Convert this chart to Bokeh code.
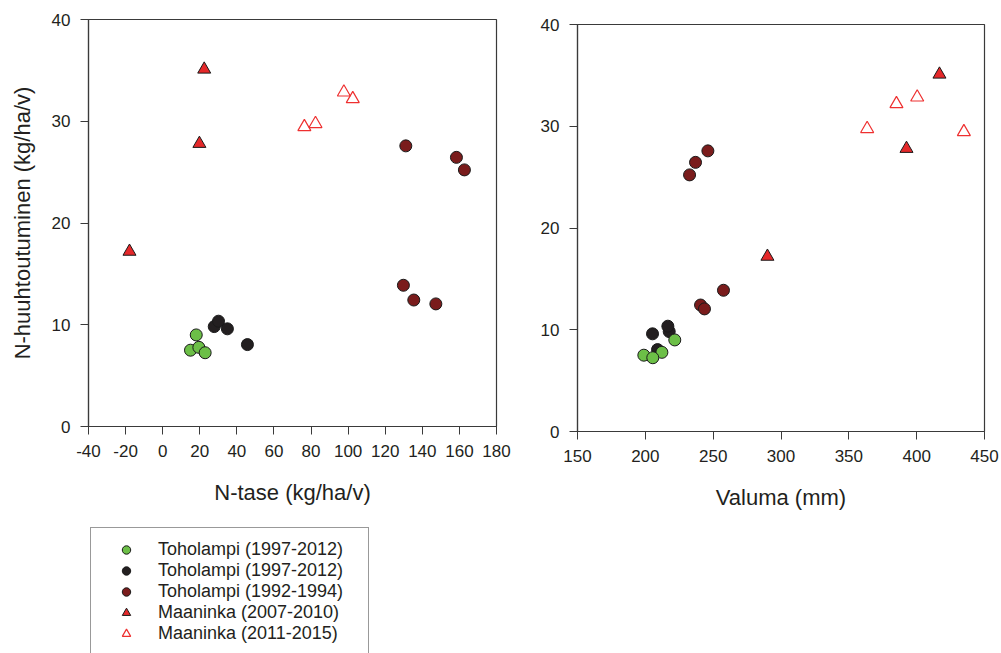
from bokeh.plotting import figure
from bokeh.models import Range1d, FixedTicker, Legend, LegendItem, Spacer
from bokeh.layouts import column, row
from bokeh.embed import file_html
from bokeh.resources import INLINE

# ---- data ----
green_ntase = [15.0, 18.1, 19.5, 22.9]
green_valuma = [198.9, 221.7, 212.2, 205.5]
green_nleach = [7.5, 9.0, 7.78, 7.25]

black_ntase = [27.8, 30.1, 34.9, 45.7]
black_valuma = [217.6, 216.6, 205.3, 209.0]
black_nleach = [9.82, 10.35, 9.6, 8.05]

dred_ntase = [131.1, 158.4, 162.7, 129.8, 135.4, 147.3]
dred_valuma = [246.1, 237.0, 232.6, 257.6, 240.7, 243.6]
dred_nleach = [27.58, 26.45, 25.22, 13.88, 12.43, 12.05]

tri_ntase = [-17.9, 19.8, 22.4]
tri_valuma = [290.0, 392.5, 416.8]
tri_nleach = [17.2, 27.8, 35.1]

otri_ntase = [76.4, 82.4, 97.7, 102.5]
otri_valuma = [434.8, 363.5, 400.4, 385.1]
otri_nleach = [29.45, 29.75, 32.85, 32.2]

labels = ["Toholampi (1997-2012)", "Toholampi (1997-2012)", "Toholampi (1992-1994)",
          "Maaninka (2007-2010)", "Maaninka (2011-2015)"]

x1_ticks = [-40, -20, 0, 20, 40, 60, 80, 100, 120, 140, 160, 180]
x2_ticks = [150, 200, 250, 300, 350, 400, 450]
y_ticks = [0, 10, 20, 30, 40]

FONT = "Liberation Sans"
TXT = "#231f20"
AX = "#3a3a3a"

styles = [
    dict(marker="circle", size=12, fill_color="#6cbf47", line_color="#1a1a1a", line_width=1),
    dict(marker="circle", size=12, fill_color="#231f20", line_color="#1a1a1a", line_width=1),
    dict(marker="circle", size=12, fill_color="#7a1c1c", line_color="#1a1a1a", line_width=1),
    dict(marker="triangle", size=13, fill_color="#e5282a", line_color="#1a1a1a", line_width=1),
    dict(marker="triangle", size=13, fill_color=None, line_color="#ee3030", line_width=1.2),
]


def style_axes(p, xticks, xlabel, ylabel):
    p.xaxis.ticker = FixedTicker(ticks=xticks)
    p.yaxis.ticker = FixedTicker(ticks=y_ticks)
    p.xaxis.major_label_overrides = {t: str(t) for t in xticks}
    for ax in p.xaxis + p.yaxis:
        ax.axis_line_color = AX
        ax.axis_line_width = 1.2
        ax.major_tick_line_color = AX
        ax.major_tick_in = 0
        ax.major_tick_out = 8
        ax.minor_tick_line_color = None
        ax.major_label_text_font = FONT
        ax.major_label_text_font_size = "17px"
        ax.major_label_text_color = TXT
        ax.major_label_standoff = 10
        ax.axis_label_text_font = FONT
        ax.axis_label_text_font_size = "22px"
        ax.axis_label_text_font_style = "normal"
        ax.axis_label_text_color = TXT
        ax.axis_label_standoff = 20
    p.xaxis.axis_label = xlabel
    if ylabel:
        p.yaxis.axis_label = ylabel
        p.yaxis.axis_label_standoff = 14
    p.xgrid.visible = False
    p.ygrid.visible = False
    p.outline_line_color = AX
    p.outline_line_width = 1.2


f1 = figure(width=520, height=515, x_range=Range1d(-40, 180), y_range=Range1d(0, 40),
            output_backend="svg", toolbar_location=None,
            min_border_left=88, min_border_right=24, min_border_top=19, min_border_bottom=89)
style_axes(f1, x1_ticks, "N-tase (kg/ha/v)", "N-huuhtoutuminen (kg/ha/v)")

f2 = figure(width=481, height=510, x_range=Range1d(150, 450), y_range=Range1d(0, 40),
            output_backend="svg", toolbar_location=None,
            min_border_left=57, min_border_right=17, min_border_top=19, min_border_bottom=84)
style_axes(f2, x2_ticks, "Valuma (mm)", None)

series_left = [(green_ntase, green_nleach), (black_ntase, black_nleach), (dred_ntase, dred_nleach),
               (tri_ntase, tri_nleach), (otri_ntase, otri_nleach)]
series_right = [(green_valuma, green_nleach), (black_valuma, black_nleach), (dred_valuma, dred_nleach),
                (tri_valuma, tri_nleach), (otri_valuma, otri_nleach)]

for i in [1, 0, 2, 3, 4]:
    xs, ys = series_left[i]
    f1.scatter(x=xs, y=ys, **styles[i])
    xs, ys = series_right[i]
    f2.scatter(x=xs, y=ys, **styles[i])

# legend host figure: same series, y-range chosen so that its own points stay out of view
f3 = figure(width=1001, height=138, x_range=Range1d(-40, 180), y_range=Range1d(100, 101),
            output_backend="svg", toolbar_location=None,
            x_axis_location=None, y_axis_location=None,
            min_border_left=78, min_border_right=0, min_border_top=0, min_border_bottom=0)
f3.xgrid.visible = False
f3.ygrid.visible = False
f3.outline_line_color = None

items = []
for i, lab in enumerate(labels):
    xs, ys = series_left[i]
    r = f3.scatter(x=xs, y=ys, **styles[i])
    items.append(LegendItem(label=lab, renderers=[r]))

leg = Legend(items=items, location="top_left", margin=12, padding=11,
             glyph_width=48, glyph_height=21, spacing=0, label_standoff=8,
             label_height=20, label_width=199,
             label_text_font=FONT, label_text_font_size="18px", label_text_color=TXT,
             border_line_color="#333333", border_line_width=1.2,
             background_fill_color="white", background_fill_alpha=1.0)
f3.add_layout(leg, "center")

layout = column(row(f1, column(Spacer(width=481, height=5), f2)), f3)

with open("out.html", "w") as fh:
    fh.write(file_html(layout, INLINE))
